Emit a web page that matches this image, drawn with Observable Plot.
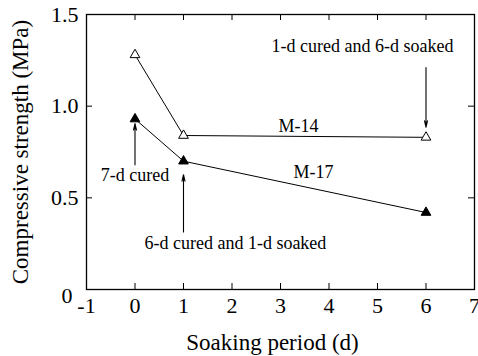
<!DOCTYPE html>
<html><head><meta charset="utf-8">
<script src="https://cdn.jsdelivr.net/npm/d3@7"></script>
<script src="https://cdn.jsdelivr.net/npm/@observablehq/plot@0.6"></script>
<style>body{margin:0;background:#fff} svg{display:block}</style>
</head><body><div id="chart"></div>
<script>
// Compressive strength vs soaking period for two mixes
const soakDays = [0, 1, 6];
const m14 = [1.28, 0.84, 0.83];
const m17 = [0.93, 0.70, 0.42];
const xTicks = [-1, 0, 1, 2, 3, 4, 5, 6, 7];
const yTicks = [0.5, 1.0, 1.5];
const yZero = [0];
const allYTicks = [0, 0.5, 1.0, 1.5];

// series names placed beside their lines (data coordinates)
const seriesNames = ["M-14", "M-17"];
const seriesNameX = [3.37, 3.68];
const seriesNameY = [0.893, 0.642];

// annotations with arrows pointing at specimens
const noteText = ["1-d cured and 6-d soaked", "7-d cured", "6-d cured and 1-d soaked"];
const noteX = [4.69, 0.0, 2.07];
const noteY = [1.325, 0.625, 0.254];
const arrowX = [6, 0, 1];
const arrowFrom = [1.21, 0.68, 0.314];
const arrowTo = [0.885, 0.905, 0.626];

const serif = "Liberation Serif";
const mk = (xs, ys) => xs.map((x, i) => ({x, y: ys[i]}));
const s14 = mk(soakDays, m14);
const s17 = mk(soakDays, m17);
const names = seriesNames.map((t, i) => ({t, x: seriesNameX[i], y: seriesNameY[i]}));
const notes = noteText.map((t, i) => ({t, x: noteX[i], y: noteY[i]}));
const arrows = arrowX.map((x, i) => ({x, y1: arrowFrom[i], y2: arrowTo[i]}));

const W = 478, H = 356;
const M = {top: 14, right: 4, bottom: 67, left: 86};
const innerW = W - M.left - M.right, innerH = H - M.top - M.bottom;
const tick = 6;
const txt = {fontFamily: serif, fill: "#000"};

const chart = Plot.plot({
  width: W, height: H,
  marginTop: M.top, marginRight: M.right, marginBottom: M.bottom, marginLeft: M.left,
  style: {background: "#fff", color: "#000"},
  x: {domain: [-1, 7]},
  y: {domain: [0, 1.5]},
  marks: [
    // inward ticks on all four sides
    Plot.tickX(xTicks, {x: d => d, insetTop: innerH - tick, stroke: "#000"}),
    Plot.tickX(xTicks, {x: d => d, insetBottom: innerH - tick, stroke: "#000"}),
    Plot.tickY(allYTicks, {y: d => d, insetRight: innerW - tick, stroke: "#000"}),
    Plot.tickY(allYTicks, {y: d => d, insetLeft: innerW - tick, stroke: "#000"}),
    Plot.axisX(xTicks, {tickSize: 0, tickPadding: 8, tickFormat: d => String(d), fontSize: 22, fontFamily: serif, label: null}),
    Plot.axisY(yTicks, {tickSize: 0, tickPadding: 8, tickFormat: d => d.toFixed(1), fontSize: 22, fontFamily: serif, label: null}),
    Plot.axisY(yZero, {tickSize: 0, tickPadding: 14, dy: 6, tickFormat: d => String(d), fontSize: 22, fontFamily: serif, label: null}),
    Plot.frame({stroke: "#000", strokeWidth: 1.3}),
    // series
    Plot.line(s14, {x: "x", y: "y", stroke: "#000", strokeWidth: 1}),
    Plot.line(s17, {x: "x", y: "y", stroke: "#000", strokeWidth: 1}),
    Plot.dot(s14, {x: "x", y: "y", symbol: "triangle", r: 3.6, fill: "#fff", stroke: "#000", strokeWidth: 1}),
    Plot.dot(s17, {x: "x", y: "y", symbol: "triangle", r: 3.6, fill: "#000", stroke: "#000", strokeWidth: 1}),
    Plot.text(names, {x: "x", y: "y", text: "t", fontSize: 18, ...txt}),
    // annotations
    Plot.arrow(arrows, {x1: "x", x2: "x", y1: "y1", y2: "y2", stroke: "#000", strokeWidth: 1.1, headLength: 9, headAngle: 26, insetStart: 0, insetEnd: 0}),
    Plot.text(notes, {x: "x", y: "y", text: "t", fontSize: 18, ...txt}),
    // axis titles
    Plot.text(["Soaking period (d)"], {frameAnchor: "bottom", textAnchor: "middle", lineAnchor: "bottom", text: d => d, dx: -8, dy: 60, fontSize: 23, ...txt}),
    Plot.text(["Compressive strength (MPa)"], {frameAnchor: "left", textAnchor: "middle", lineAnchor: "middle", text: d => d, rotate: -90, dx: -66, dy: 0, fontSize: 23, ...txt})
  ]
});
document.getElementById("chart").appendChild(chart);
</script>
</body></html>
